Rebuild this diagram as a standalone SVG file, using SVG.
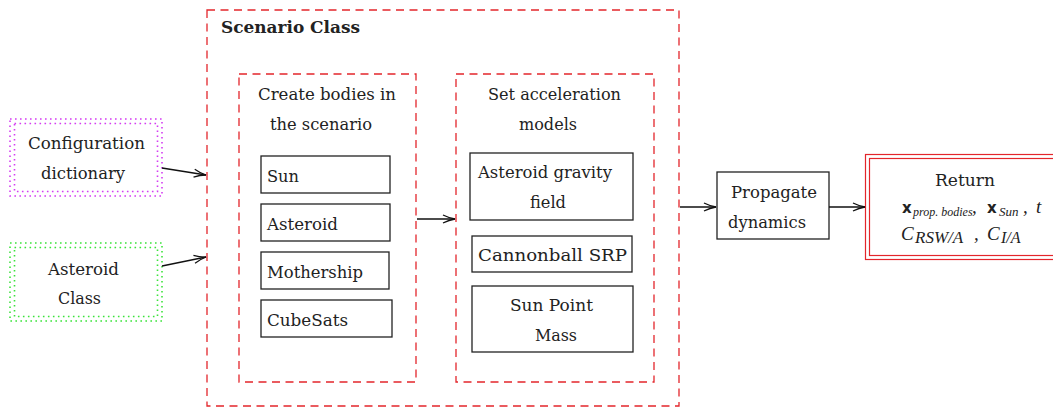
<svg xmlns="http://www.w3.org/2000/svg" width="1053" height="407" viewBox="0 0 1053 407">
<style>
text{font-family:"DejaVu Serif","Liberation Serif",serif;font-size:16px;fill:#222}
.b{font-weight:bold}
.box{fill:#fff;stroke:#222;stroke-width:1.3}
.dash{fill:none;stroke:#e3262b;stroke-width:1.3;stroke-dasharray:8 5.5}
.dotm{fill:none;stroke:#d43cf2;stroke-width:1.6;stroke-dasharray:1.6 3.4}
.dotg{fill:none;stroke:#3be33b;stroke-width:1.6;stroke-dasharray:1.6 3.4}
.red{fill:none;stroke:#e3262b;stroke-width:1.2}
.conn{fill:none;stroke:#111;stroke-width:1.3;marker-end:url(#arr)}
.math{font-family:"Liberation Serif","DejaVu Serif",serif;font-style:italic;font-size:19px}
.sans{font-family:"DejaVu Sans","Liberation Sans",sans-serif;font-weight:bold;font-style:normal;font-size:15px}
</style>
<defs>
<marker id="arr" viewBox="0 0 14 10" refX="13" refY="5" markerWidth="14" markerHeight="10" markerUnits="userSpaceOnUse" orient="auto">
<path d="M1,1 Q7,4 13,5 Q7,6 1,9" fill="none" stroke="#111" stroke-width="1.3"/>
</marker>
</defs>
<rect width="1053" height="407" fill="#fff"/>

<g id="scenario">
<rect class="dash" x="207" y="10" width="472" height="396"/>
<text class="b" x="221" y="33" textLength="139" lengthAdjust="spacingAndGlyphs">Scenario Class</text>
</g>

<g id="bodies">
<rect class="dash" x="239" y="74" width="177" height="308"/>
<text x="258" y="100" textLength="138" lengthAdjust="spacingAndGlyphs">Create bodies in</text>
<text x="270" y="130" textLength="102" lengthAdjust="spacingAndGlyphs">the scenario</text>
</g>
<g id="sun"><rect class="box" x="261" y="156" width="129" height="37"/><text x="267" y="182" textLength="32" lengthAdjust="spacingAndGlyphs">Sun</text></g>
<g id="asteroid"><rect class="box" x="261" y="204" width="129" height="37"/><text x="267" y="230" textLength="71" lengthAdjust="spacingAndGlyphs">Asteroid</text></g>
<g id="mothership"><rect class="box" x="261" y="252" width="128" height="37"/><text x="267" y="278" textLength="96" lengthAdjust="spacingAndGlyphs">Mothership</text></g>
<g id="cubesats"><rect class="box" x="261" y="300" width="131" height="37"/><text x="267" y="326" textLength="81" lengthAdjust="spacingAndGlyphs">CubeSats</text></g>

<g id="accel">
<rect class="dash" x="456" y="74" width="198" height="308"/>
<text x="488" y="100" textLength="133" lengthAdjust="spacingAndGlyphs">Set acceleration</text>
<text x="519" y="130" textLength="58" lengthAdjust="spacingAndGlyphs">models</text>
</g>
<g id="gravity"><rect class="box" x="470" y="153" width="163" height="67"/><text x="478" y="178" textLength="134" lengthAdjust="spacingAndGlyphs">Asteroid gravity</text><text x="530" y="208" textLength="36" lengthAdjust="spacingAndGlyphs">field</text></g>
<g id="srp"><rect class="box" x="472" y="236" width="160" height="36"/><text x="478" y="261" textLength="149" lengthAdjust="spacingAndGlyphs">Cannonball SRP</text></g>
<g id="sunpm"><rect class="box" x="472" y="286" width="161" height="66"/><text x="510" y="311" textLength="83" lengthAdjust="spacingAndGlyphs">Sun Point</text><text x="535" y="341" textLength="42" lengthAdjust="spacingAndGlyphs">Mass</text></g>

<g id="config">
<rect class="dotm" x="10" y="119" width="152" height="77"/>
<rect class="dotm" x="14.5" y="123.5" width="143" height="68"/>
<text x="28" y="149" textLength="117" lengthAdjust="spacingAndGlyphs">Configuration</text>
<text x="41" y="179" textLength="84" lengthAdjust="spacingAndGlyphs">dictionary</text>
</g>
<g id="asteroidclass">
<rect class="dotg" x="10" y="243" width="152" height="78"/>
<rect class="dotg" x="14.5" y="247.5" width="143" height="69"/>
<text x="48" y="275" textLength="71" lengthAdjust="spacingAndGlyphs">Asteroid</text>
<text x="58" y="304" textLength="43" lengthAdjust="spacingAndGlyphs">Class</text>
</g>

<g id="propagate">
<rect class="box" x="717" y="172" width="112" height="67"/>
<text x="731" y="198" textLength="86" lengthAdjust="spacingAndGlyphs">Propagate</text>
<text x="728" y="228" textLength="78" lengthAdjust="spacingAndGlyphs">dynamics</text>
</g>

<g id="return">
<rect class="red" x="865.5" y="154.5" width="200" height="105"/>
<rect class="red" x="869.5" y="158.5" width="192" height="97"/>
<text x="935" y="186" textLength="60" lengthAdjust="spacingAndGlyphs">Return</text>
<text class="math" y="213"><tspan class="sans" x="902">x</tspan><tspan x="913" y="216" font-size="12">prop. bodies</tspan><tspan x="972" y="213">,</tspan><tspan class="sans" x="987">x</tspan><tspan x="999" y="216" font-size="13">Sun</tspan><tspan x="1023" y="213">,</tspan><tspan x="1036">t</tspan></text>
<text class="math" y="240"><tspan x="901">C</tspan><tspan x="915" y="243" font-size="17">RSW/A</tspan><tspan x="974" y="240">,</tspan><tspan x="987">C</tspan><tspan x="1001" y="243" font-size="16">I/A</tspan></text>
</g>

<g id="connectors">
<path class="conn" d="M162,168 L206,175"/>
<path class="conn" d="M162,266 L206,257"/>
<path class="conn" d="M417,219 L455,219"/>
<path class="conn" d="M680,207 L716,207"/>
<path class="conn" d="M829,207 L865,207"/>
</g>
</svg>
